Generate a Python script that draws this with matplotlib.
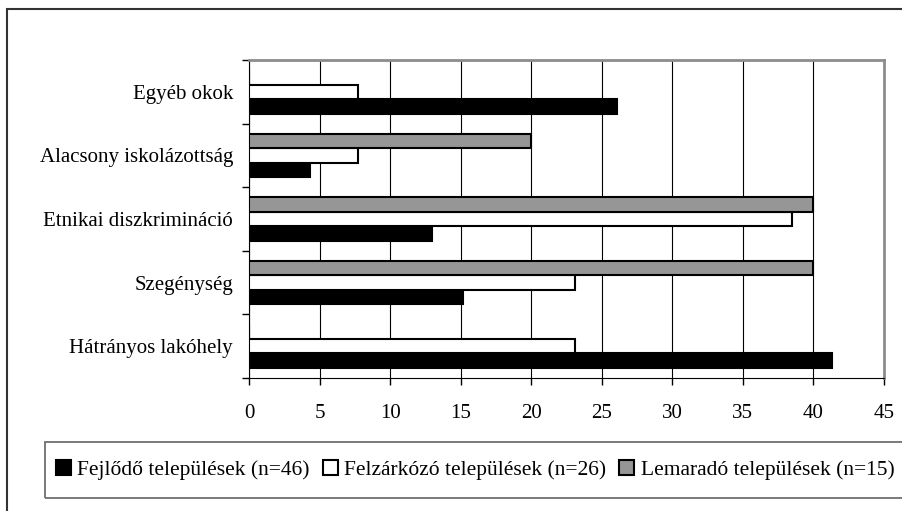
import numpy as np
import matplotlib.pyplot as plt
from matplotlib.patches import Rectangle

plt.rcParams['font.family'] = ['Liberation Serif', 'DejaVu Serif']

categories = ["Hátrányos lakóhely", "Szegénység", "Etnikai diszkrimináció",
              "Alacsony iskolázottság", "Egyéb okok"]
series = ["Fejlődő települések (n=46)", "Felzárkózó települések (n=26)",
          "Lemaradó települések (n=15)"]
fejlodo = [41.3, 15.2, 13.0, 4.35, 26.1]
felzarkozo = [23.1, 23.1, 38.5, 7.7, 7.7]
lemarado = [0, 40, 40, 20, 0]
colors = ["black", "white", "#969696"]

W, H = 903, 511
fig = plt.figure(figsize=(W / 100, H / 100), dpi=100)
ax = fig.add_axes([249 / W, 1 - 378 / H, 635 / W, 318 / H])

y = np.arange(len(categories))
h = 0.228
for i, (vals, col, name) in enumerate(zip([fejlodo, felzarkozo, lemarado], colors, series)):
    ax.barh(y + (i - 1) * h, vals, height=h, color=col, edgecolor="black",
            linewidth=1.5, label=name, zorder=3)

ax.set_xlim(0, 45)
ax.set_ylim(-0.5, len(categories) - 0.5)
ax.set_xticks(np.arange(0, 46, 5))
ax.set_yticks(y)
ax.set_yticklabels(categories)
ax.set_yticks(np.arange(-0.5, len(categories), 1), minor=True)
ax.tick_params(axis="y", which="major", length=0, pad=11.5, labelsize=15)
ax.tick_params(axis="y", which="minor", length=5, direction="out", width=1)
ax.tick_params(axis="x", length=5, direction="out", width=1, pad=14, labelsize=15)
ax.grid(axis="x", color="black", linewidth=0.8, zorder=0)
ax.spines["left"].set_color("black")
ax.spines["bottom"].set_color("black")
for s in ["top", "right"]:
    ax.spines[s].set_color("#8c8c8c")
    ax.spines[s].set_linewidth(2)

# legend without its own frame, box drawn separately (runs past the right edge)
fig.legend(loc="center", ncol=3, bbox_to_anchor=(475 / W, 1 - 470 / H),
           frameon=False, fontsize=15.5,
           handlelength=0.7, handleheight=0.7, handletextpad=0.3,
           columnspacing=0.6, borderpad=0)
fig.patches.append(Rectangle((45 / W, 1 - 498 / H), 900 / W, 56 / H,
                             transform=fig.transFigure, fill=False,
                             edgecolor="#6e6e6e", linewidth=1.3))

# outer chart frame
fig.patches.append(Rectangle((7 / W, -10 / H), 950 / W, 512 / H,
                             transform=fig.transFigure, fill=False,
                             edgecolor="#333333", linewidth=1.5))

fig.savefig("out.png", dpi=100)
